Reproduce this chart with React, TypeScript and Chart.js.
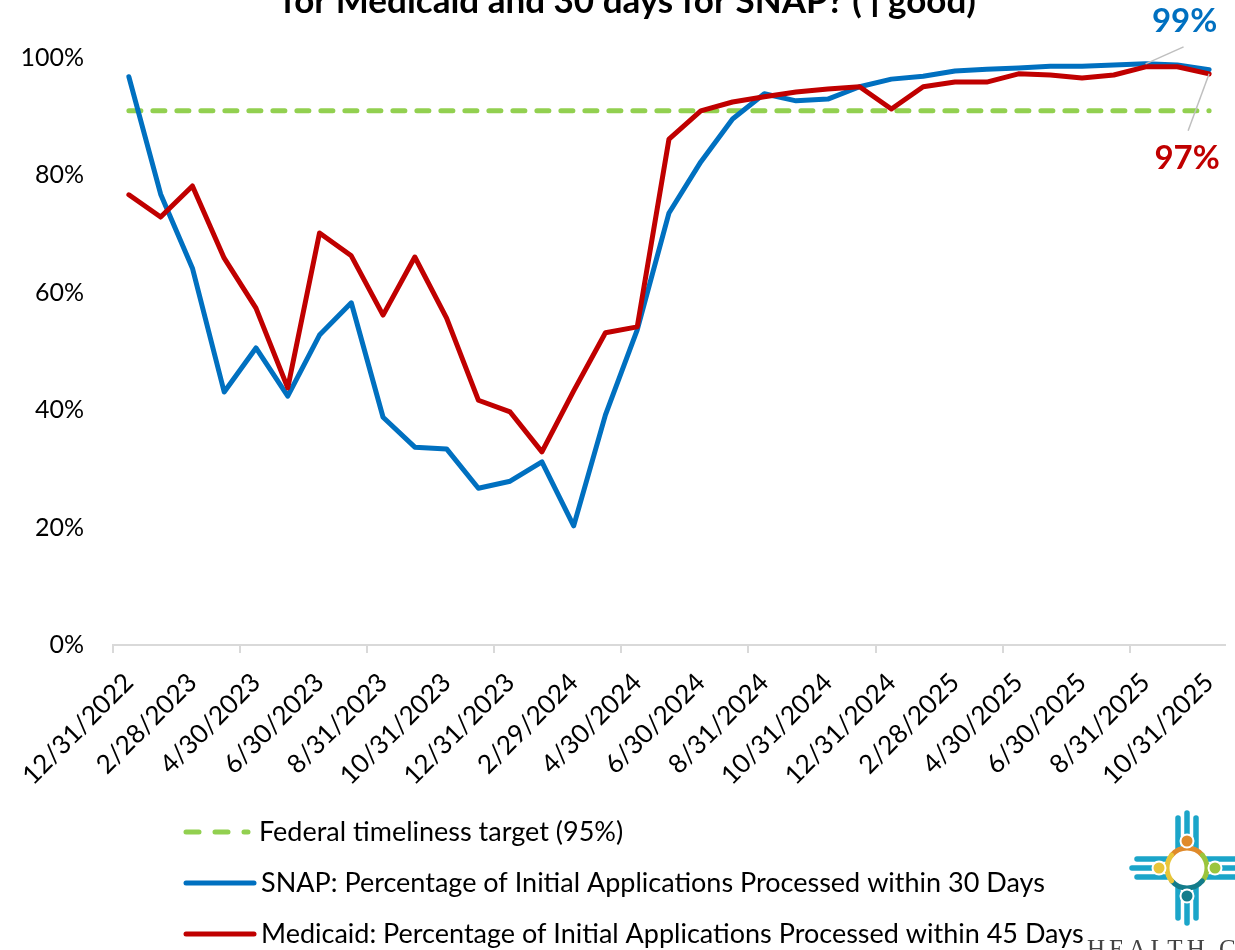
import React, { useEffect, useRef } from 'react';
import { Chart, registerables } from 'chart.js';

Chart.register(...registerables);

const categories = [
  '12/31/2022', '1/31/2023', '2/28/2023', '3/31/2023', '4/30/2023', '5/31/2023', '6/30/2023',
  '7/31/2023', '8/31/2023', '9/30/2023', '10/31/2023', '11/30/2023', '12/31/2023', '1/31/2024',
  '2/29/2024', '3/31/2024', '4/30/2024', '5/31/2024', '6/30/2024', '7/31/2024', '8/31/2024',
  '9/30/2024', '10/31/2024', '11/30/2024', '12/31/2024', '1/31/2025', '2/28/2025', '3/31/2025',
  '4/30/2025', '5/31/2025', '6/30/2025', '7/31/2025', '8/31/2025', '9/30/2025', '10/31/2025',
];

const snapValues = [
  96.8, 76.8, 64.2, 43.1, 50.6, 42.4, 52.8, 58.3, 38.8, 33.7, 33.4, 26.7, 27.9, 31.2, 20.3,
  39.2, 53.7, 73.6, 82.3, 89.6, 93.9, 92.7, 93.0, 95.1, 96.4, 96.9, 97.8, 98.1, 98.3, 98.6,
  98.6, 98.8, 99.0, 98.8, 98.0,
];

const medicaidValues = [
  76.7, 72.9, 78.2, 65.9, 57.4, 43.8, 70.2, 66.3, 56.2, 66.1, 55.7, 41.7, 39.7, 32.9, 43.3,
  53.2, 54.2, 86.2, 91.0, 92.5, 93.4, 94.2, 94.7, 95.1, 91.3, 95.1, 95.9, 95.9, 97.3, 97.1,
  96.6, 97.1, 98.5, 98.5, 97.3,
];

const targetValues = [
  91, 91, 91, 91, 91, 91, 91, 91, 91, 91, 91, 91, 91, 91, 91, 91, 91, 91, 91, 91, 91, 91,
  91, 91, 91, 91, 91, 91, 91, 91, 91, 91, 91, 91, 91,
];

const seriesLabels = [
  'Federal timeliness target (95%)',
  'SNAP: Percentage of Initial Applications Processed within 30 Days',
  'Medicaid: Percentage of Initial Applications Processed within 45 Days',
];

const titleLine = 'for Medicaid and 30 days for SNAP? (\u2191good)';
const endLabels = ['99%', '97%'];
const endLabelIndex = [32, 34];

const FONT = 'Lato, "Open Sans", "Noto Sans", sans-serif';

const decorPlugin = {
  id: 'decor',
  afterDatasetsDraw(chart: any) {
    const ctx = chart.ctx as CanvasRenderingContext2D;
    const specs = [
      { ds: 1, color: '#0070C0', dx: 38, dy: -17, tdx: 1, tdy: -26 },
      { ds: 2, color: '#C00000', dx: -21, dy: 57, tdx: -1, tdy: 28 },
    ];
    specs.forEach((s, k) => {
      const pt = chart.getDatasetMeta(s.ds).data[endLabelIndex[k]];
      if (!pt) return;
      ctx.save();
      ctx.strokeStyle = '#BFBFBF';
      ctx.lineWidth = 1.5;
      ctx.beginPath();
      ctx.moveTo(pt.x, pt.y);
      ctx.lineTo(pt.x + s.dx, pt.y + s.dy);
      ctx.stroke();
      ctx.font = `bold 33px ${FONT}`;
      ctx.fillStyle = s.color;
      ctx.textAlign = 'center';
      ctx.textBaseline = 'middle';
      ctx.fillText(endLabels[k], pt.x + s.dx + s.tdx, pt.y + s.dy + s.tdy);
      ctx.restore();
    });
  },
  afterDraw(chart: any) {
    const ctx = chart.ctx as CanvasRenderingContext2D;
    // Title (cut off at the top, as in the reference)
    ctx.save();
    ctx.font = `bold 35px ${FONT}`;
    ctx.fillStyle = '#000';
    ctx.textAlign = 'center';
    ctx.textBaseline = 'alphabetic';
    ctx.fillText(titleLine, 629, 13);
    ctx.restore();

    // Legend (vertical list)
    const ds = chart.data.datasets;
    const rows = [832, 883, 934];
    ds.forEach((d: any, i: number) => {
      const y = rows[i];
      ctx.save();
      ctx.strokeStyle = d.borderColor;
      ctx.lineWidth = 5;
      ctx.lineCap = 'round';
      if (d.borderDash && d.borderDash.length) ctx.setLineDash([13, 16]);
      ctx.beginPath();
      ctx.moveTo(186, y);
      ctx.lineTo(i === 0 ? 248 : 254, y);
      ctx.stroke();
      ctx.setLineDash([]);
      ctx.font = `27px ${FONT}`;
      ctx.fillStyle = '#000';
      ctx.textAlign = 'left';
      ctx.textBaseline = 'middle';
      ctx.fillText(d.label, i === 0 ? 259 : 261, y);
      ctx.restore();
    });
  },
};

function Logo() {
  const cx = 1187;
  const cy = 868;
  const ray = '#1BA5C9';
  const arc = (a0: number, a1: number, r: number) => {
    const p0 = [cx + r * Math.cos((a0 * Math.PI) / 180), cy + r * Math.sin((a0 * Math.PI) / 180)];
    const p1 = [cx + r * Math.cos((a1 * Math.PI) / 180), cy + r * Math.sin((a1 * Math.PI) / 180)];
    return `M ${p0[0]} ${p0[1]} A ${r} ${r} 0 0 1 ${p1[0]} ${p1[1]}`;
  };
  return (
    <svg
      width={1235}
      height={950}
      style={{ position: 'absolute', left: 0, top: 0, pointerEvents: 'none' }}
    >
      <g stroke={ray} strokeWidth={5.5} strokeLinecap="round">
        <line x1={1178} y1={818} x2={1178} y2={849} />
        <line x1={1187} y1={813} x2={1187} y2={835} />
        <line x1={1196} y1={818} x2={1196} y2={849} />
        <line x1={1178} y1={887} x2={1178} y2={918} />
        <line x1={1187} y1={900} x2={1187} y2={923} />
        <line x1={1196} y1={887} x2={1196} y2={918} />
        <line x1={1137} y1={859} x2={1167} y2={859} />
        <line x1={1132} y1={868} x2={1155} y2={868} />
        <line x1={1137} y1={877} x2={1167} y2={877} />
        <line x1={1207} y1={859} x2={1240} y2={859} />
        <line x1={1219} y1={868} x2={1240} y2={868} />
        <line x1={1207} y1={877} x2={1240} y2={877} />
      </g>
      <circle cx={cx} cy={cy} r={22} fill="#fff" />
      <g fill="none" strokeWidth={5} strokeLinecap="round">
        <path d={arc(-140, -40, 20)} stroke="#E08A2A" />
        <path d={arc(-40, 40, 20)} stroke="#9BC53D" />
        <path d={arc(40, 140, 20)} stroke="#137C8B" />
        <path d={arc(140, 220, 20)} stroke="#E8C53A" />
      </g>
      <circle cx={cx} cy={cy} r={16} fill="#fff" />
      <g stroke="#fff" strokeWidth={2}>
        <circle cx={1187} cy={841} r={6.5} fill="#E08A2A" />
        <circle cx={1159} cy={868} r={6.5} fill="#E8C53A" />
        <circle cx={1215} cy={868} r={6.5} fill="#9BC53D" />
        <circle cx={1187} cy={896} r={6.5} fill="#137C8B" />
      </g>
      <text
        x={1087}
        y={957}
        fill="#444"
        fontFamily='"Liberation Serif", "DejaVu Serif", serif'
        fontSize={25}
        letterSpacing={4}
      >
        HEALTH CARE
      </text>
    </svg>
  );
}

export default function App() {
  const ref = useRef<HTMLCanvasElement>(null);

  useEffect(() => {
    if (!ref.current) return;
    const chart = new Chart(ref.current, {
      type: 'line',
      data: {
        labels: categories,
        datasets: [
          {
            label: seriesLabels[0],
            data: targetValues,
            borderColor: '#92D050',
            backgroundColor: '#92D050',
            borderWidth: 5,
            borderDash: [12, 12],
            borderCapStyle: 'round',
            pointRadius: 0,
            order: 3,
          },
          {
            label: seriesLabels[1],
            data: snapValues,
            borderColor: '#0070C0',
            backgroundColor: '#0070C0',
            borderWidth: 5,
            borderJoinStyle: 'round',
            borderCapStyle: 'round',
            pointRadius: 0,
            order: 2,
          },
          {
            label: seriesLabels[2],
            data: medicaidValues,
            borderColor: '#C00000',
            backgroundColor: '#C00000',
            borderWidth: 5,
            borderJoinStyle: 'round',
            borderCapStyle: 'round',
            pointRadius: 0,
            order: 1,
          },
        ],
      } as any,
      options: {
        animation: false,
        responsive: false,
        maintainAspectRatio: false,
        layout: { padding: { top: 58, right: 10, left: 0, bottom: 0 } },
        plugins: {
          legend: { display: false },
          title: { display: false },
          tooltip: { enabled: false },
        },
        elements: { line: { tension: 0 } },
        scales: {
          x: {
            offset: true,
            grid: {
              display: true,
              drawOnChartArea: false,
              drawTicks: true,
              tickLength: 8,
              lineWidth: 2,
              offset: true,
              color: (c: any) =>
                c.index !== undefined && c.index % 4 === 0 ? '#D9D9D9' : 'rgba(0,0,0,0)',
            },
            border: { display: true, color: '#D9D9D9', width: 2 },
            ticks: {
              autoSkip: false,
              maxRotation: 45,
              minRotation: 45,
              padding: 14,
              color: '#000',
              font: { family: FONT, size: 26 },
              callback: (_v: any, i: number) => (i % 2 === 0 ? categories[i] : ''),
            },
            afterFit: (s: any) => {
              s.height = 305;
              s.paddingLeft = 0;
              s.paddingRight = 0;
            },
          },
          y: {
            min: 0,
            max: 100,
            grid: { display: false, drawTicks: false },
            border: { display: false },
            ticks: {
              stepSize: 20,
              padding: 29,
              color: '#000',
              font: { family: FONT, size: 25 },
              callback: (v: any) => `${v}%`,
            },
            afterFit: (s: any) => {
              s.width = 113;
            },
          },
        },
      } as any,
      plugins: [decorPlugin],
    });
    return () => chart.destroy();
  }, []);

  return (
    <div style={{ position: 'absolute', left: 0, top: 0, width: 1235, height: 950, overflow: 'hidden', background: '#fff' }}>
      <canvas ref={ref} width={1235} height={950} style={{ display: 'block', width: 1235, height: 950 }} />
      <Logo />
    </div>
  );
}
